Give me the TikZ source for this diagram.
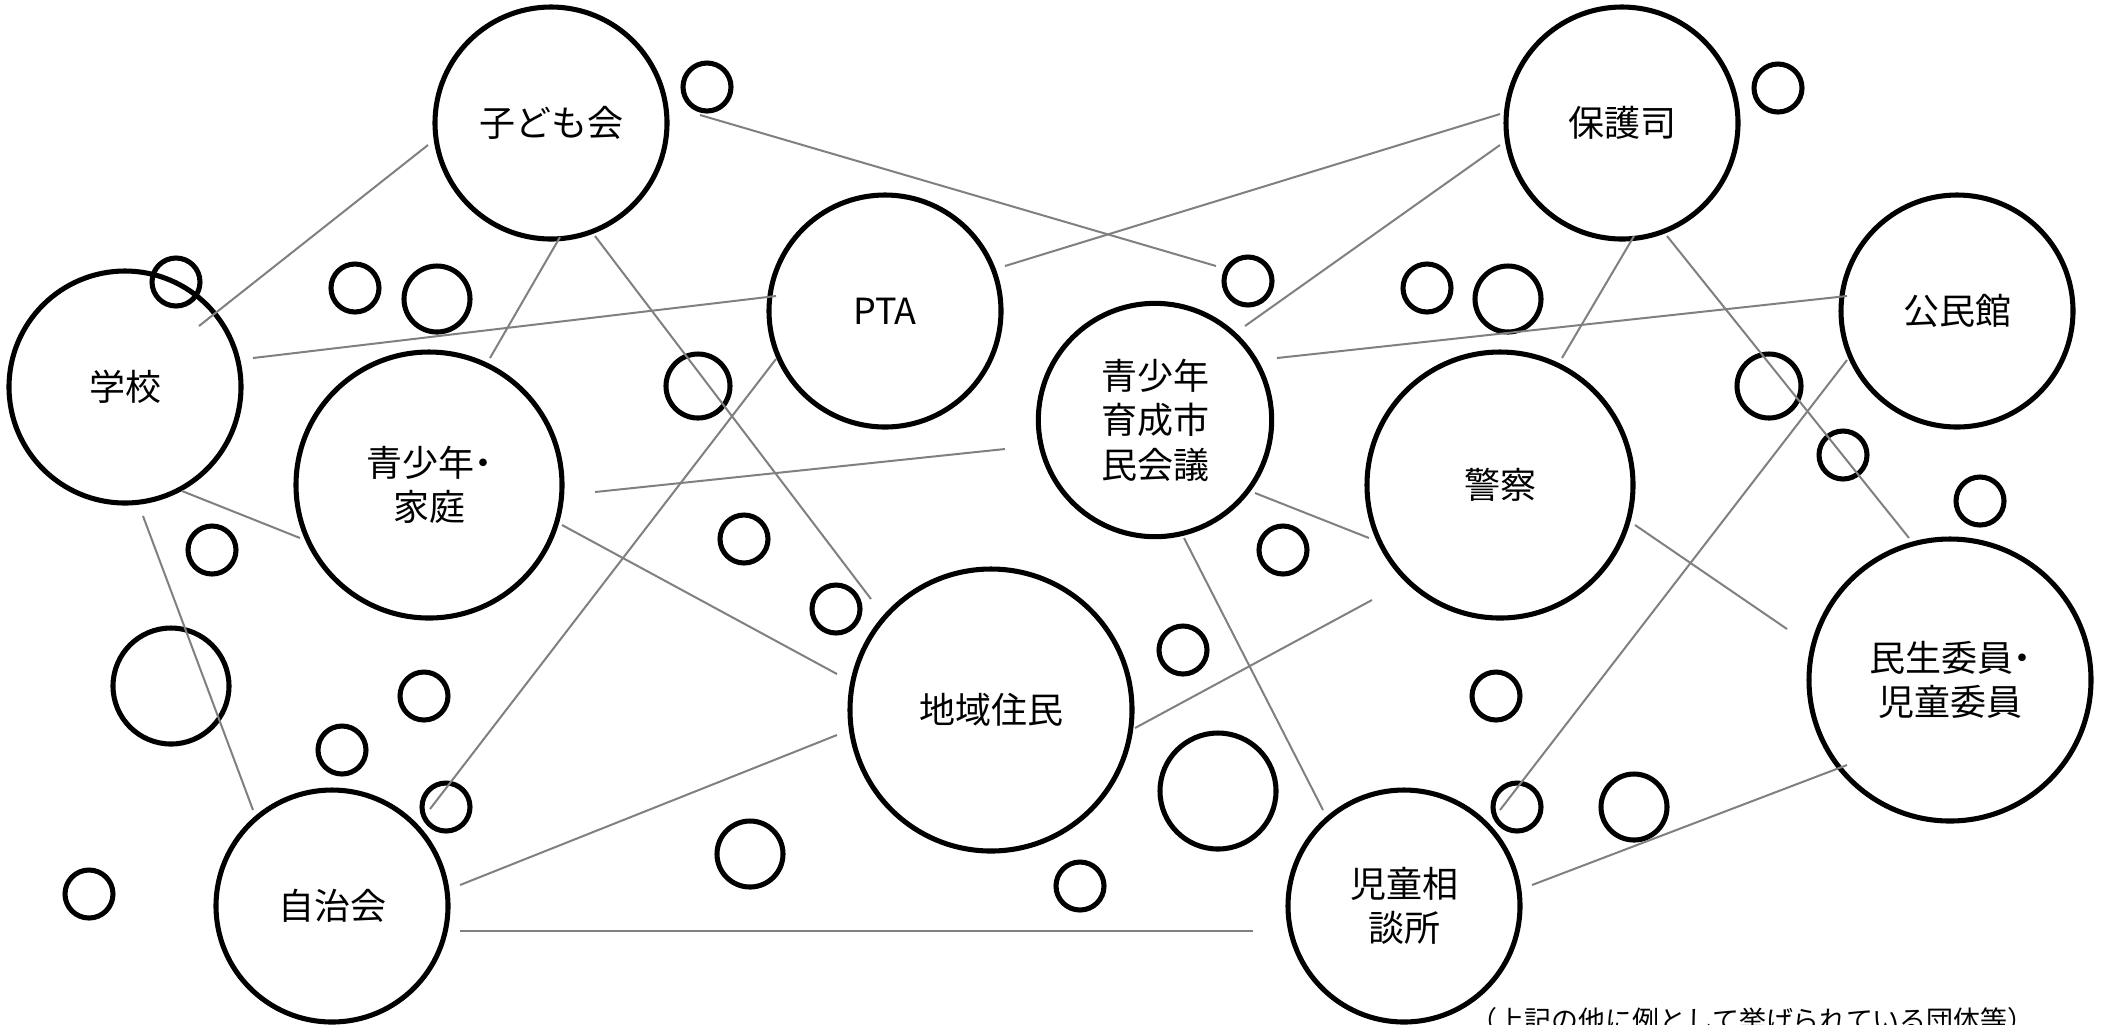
\documentclass[tikz,border=0pt]{standalone}
\usepackage{fontspec}
\newfontfamily\jp{Noto Sans CJK JP}
\usetikzlibrary{calc}
\newcommand{\jdot}{\kern-0.25em・\kern-0.25em}
\tikzset{
  org/.style={circle, draw=black, line width=1.9pt, inner sep=0pt, align=center,
    minimum size=#1, font=\jp\fontsize{13.5pt}{16.7pt}\selectfont},
  bub/.style={circle, draw=black, line width=1.9pt, inner sep=0pt, minimum size=#1},
  link/.style={draw=black!50, line width=0.75pt}
}
\begin{document}
\begin{tikzpicture}[x=0.375pt, y=-0.375pt]
\clip (0,0) rectangle (2112,1024);
\fill[white] (0,0) rectangle (2112,1024);
% main organisations
\node[org=87pt] (kodomo) at (551,123) {子ども会};
\node[org=87pt] (gakko) at (125,387) {学校};
\node[org=87pt] (pta) at (885,311) {PTA};
\node[org=99.75pt] (katei) at (429,485) {青少年\jdot\\家庭};
\node[org=87pt] (jichi) at (332,906) {自治会};
\node[org=105.75pt] (chiiki) at (991,710) {地域住民};
\node[org=87.5pt] (ikusei) at (1155,420) {青少年\\育成市\\民会議};
\node[org=99.75pt] (keisatsu) at (1500,485) {警察};
\node[org=87pt] (hogo) at (1622,123) {保護司};
\node[org=87pt] (kominkan) at (1957,311) {公民館};
\node[org=105.75pt] (minsei) at (1950,680) {民生委員\jdot\\児童委員};
\node[org=87pt] (jido) at (1404,906) {児童相\\談所};
% small bubbles
\node[bub=18pt] (s1) at (707,87) {};
\node[bub=18pt] (s2) at (176,282) {};
\node[bub=18pt] (s3) at (355,288) {};
\node[bub=24.75pt] (s4) at (437,299) {};
\node[bub=24pt] (s5) at (698,386) {};
\node[bub=18pt] (s6) at (1778,88) {};
\node[bub=18pt] (s7) at (1248,281) {};
\node[bub=18pt] (s8) at (1427,288) {};
\node[bub=24.75pt] (s9) at (1508,299) {};
\node[bub=24pt] (s10) at (1769,386) {};
\node[bub=18pt] (s11) at (1843,455) {};
\node[bub=18pt] (s12) at (1980,501) {};
\node[bub=18pt] (s13) at (212,550) {};
\node[bub=43.5pt] (s14) at (171,686) {};
\node[bub=18pt] (s15) at (424,696) {};
\node[bub=18pt] (s16) at (342,750) {};
\node[bub=18pt] (s17) at (446,807) {};
\node[bub=18pt] (s18) at (89,894) {};
\node[bub=18pt] (s19) at (744,539) {};
\node[bub=18pt] (s20) at (836,609) {};
\node[bub=24.75pt] (s21) at (750,854) {};
\node[bub=18pt] (s22) at (1080,886) {};
\node[bub=18pt] (s23) at (1283,550) {};
\node[bub=18pt] (s24) at (1183,650) {};
\node[bub=43.5pt] (s25) at (1218,791) {};
\node[bub=18pt] (s26) at (1496,696) {};
\node[bub=18pt] (s27) at (1517,807) {};
\node[bub=24.75pt] (s28) at (1634,807) {};
% connectors
\draw[link] ($(s1)+(-7,28)$) -- ($(s7)+(-32,-15)$);
\draw[link] ($(gakko)+(74,-61)$) -- ($(kodomo)+(-123,22)$);
\draw[link] ($(kodomo)+(9,114)$) -- ($(katei)+(61,-127)$);
\draw[link] ($(kodomo)+(44,113)$) -- ($(chiiki)+(-120,-111)$);
\draw[link] ($(pta)+(120,-45)$) -- ($(hogo)+(-122,-9)$);
\draw[link] ($(gakko)+(128,-29)$) -- ($(pta)+(-109,-15)$);
\draw[link] ($(katei)+(166,7)$) -- ($(ikusei)+(-150,29)$);
\draw[link] ($(pta)+(-109,48)$) -- ($(jichi)+(98,-97)$);
\draw[link] ($(gakko)+(57,104)$) -- ($(katei)+(-129,53)$);
\draw[link] ($(gakko)+(18,129)$) -- ($(jichi)+(-79,-96)$);
\draw[link] ($(katei)+(133,40)$) -- ($(chiiki)+(-154,-36)$);
\draw[link] ($(jichi)+(128,-21)$) -- ($(chiiki)+(-154,25)$);
\draw[link] ($(jichi)+(128,25)$) -- ($(jido)+(-151,25)$);
\draw[link] ($(hogo)+(-122,22)$) -- ($(ikusei)+(90,-94)$);
\draw[link] ($(ikusei)+(122,-62)$) -- ($(kominkan)+(-110,-15)$);
\draw[link] ($(hogo)+(12,113)$) -- ($(keisatsu)+(62,-127)$);
\draw[link] ($(hogo)+(45,113)$) -- ($(minsei)+(-41,-142)$);
\draw[link] ($(kominkan)+(-110,49)$) -- ($(jido)+(96,-96)$);
\draw[link] ($(ikusei)+(100,73)$) -- ($(keisatsu)+(-131,53)$);
\draw[link] ($(ikusei)+(29,118)$) -- ($(jido)+(-81,-96)$);
\draw[link] ($(keisatsu)+(135,40)$) -- ($(minsei)+(-163,-51)$);
\draw[link] ($(keisatsu)+(-128,115)$) -- ($(chiiki)+(144,18)$);
\draw[link] ($(minsei)+(-103,85)$) -- ($(jido)+(128,-21)$);
% caption
\node[anchor=base west, inner sep=0pt, font=\jp\fontsize{10.1pt}{12pt}\selectfont] (cap) at (1470,1030) {（上記の他に例として挙げられている団体等）};
\end{tikzpicture}
\end{document}
